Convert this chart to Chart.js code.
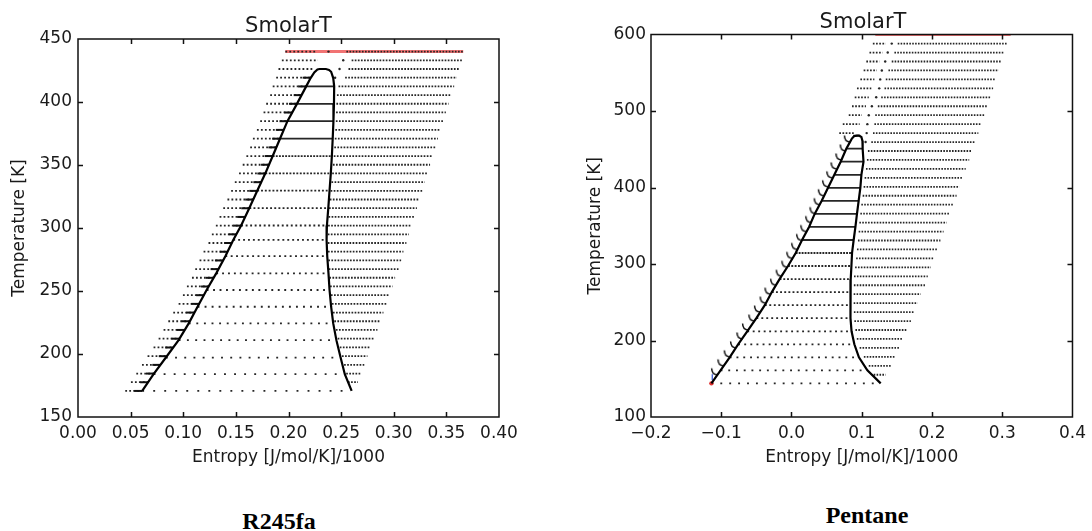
<!DOCTYPE html>
<html>
<head>
<meta charset="utf-8">
<script src="https://cdn.jsdelivr.net/npm/chart.js@4.4.1/dist/chart.umd.min.js"></script>
<style>
  body { margin: 0; background: #fff; width: 1092px; height: 531px; position: relative; overflow: hidden; }
  .box { position: absolute; top: 0; }
  #boxA { left: 0; }
  #boxB { left: 560px; }
  .cap { position: absolute; font-family: "Liberation Serif", serif; font-weight: bold; font-size: 24px;
         color: #000; transform: translate(-50%, -50%); white-space: nowrap; }
  .ttl { position: absolute; font-family: "DejaVu Sans", sans-serif; font-size: 21px; color: #1a1a1a;
         transform: translate(-50%, -50%); white-space: nowrap; }
</style>
</head>
<body>
<div class="box" id="boxA"><canvas id="chartA" width="540" height="470"></canvas></div>
<div class="box" id="boxB"><canvas id="chartB" width="532" height="470"></canvas></div>
<div class="ttl" style="left:288.5px; top:25px">SmolarT</div>
<div class="ttl" style="left:863px; top:20.5px">SmolarT</div>
<div class="cap" style="left:279px; top:521px">R245fa</div>
<div class="cap" style="left:867px; top:515px">Pentane</div>
<script>
// ---------- R245fa ----------
// grid rows (top to bottom), entropy bounds of each dotted row
const rGridT = [440.0, 433.1, 426.2, 419.3, 412.4, 405.5, 398.6, 391.7, 384.8, 377.9, 370.9, 364.0, 357.1, 350.2,
  343.3, 336.4, 329.5, 322.6, 315.7, 308.8, 301.9, 295.0, 288.1, 281.2, 274.3, 267.4, 260.5, 253.6, 246.7, 239.8,
  232.9, 226.0, 219.1, 212.2, 205.2, 198.3, 191.4, 184.5, 177.6, 170.7];
const rLeft = [0.197, 0.1937, 0.1905, 0.1883, 0.185, 0.1826, 0.1788, 0.1763, 0.1731, 0.170, 0.1662, 0.1636, 0.160,
  0.1565, 0.153, 0.149, 0.1455, 0.142, 0.138, 0.1345, 0.131, 0.1272, 0.124, 0.1193, 0.1155, 0.1114, 0.1083, 0.1035,
  0.0997, 0.0956, 0.0905, 0.0858, 0.0813, 0.0766, 0.0718, 0.0661, 0.0608, 0.0554, 0.0503, 0.0449];
const rLiq = [0.227, 0.228, 0.2238, 0.221, 0.2168, 0.2125, 0.208, 0.2035, 0.199, 0.1955, 0.192, 0.1885, 0.185, 0.1815,
  0.178, 0.1742, 0.1703, 0.1665, 0.1627, 0.1588, 0.155, 0.1506, 0.1464, 0.1422, 0.1377, 0.1335, 0.129, 0.1245, 0.1198,
  0.1152, 0.1105, 0.106, 0.1012, 0.0962, 0.0904, 0.0843, 0.0782, 0.0722, 0.0666, 0.061];
const rVap = [0.255, 0.260, 0.257, 0.2538, 0.2475, 0.246, 0.2455, 0.2452, 0.245, 0.2445, 0.244, 0.2435, 0.243, 0.2422,
  0.2415, 0.2408, 0.24, 0.2392, 0.2385, 0.238, 0.2376, 0.2373, 0.2373, 0.2375, 0.2378, 0.2382, 0.2388, 0.2395, 0.2403,
  0.2412, 0.2422, 0.2435, 0.245, 0.2467, 0.2487, 0.2508, 0.2528, 0.2548, 0.2565, null];
const rRight = [0.366, 0.3647, 0.3625, 0.360, 0.3574, 0.355, 0.352, 0.3495, 0.347, 0.3445, 0.342, 0.3395, 0.337, 0.3345,
  0.332, 0.3295, 0.327, 0.3245, 0.322, 0.3195, 0.317, 0.3145, 0.312, 0.3092, 0.307, 0.3045, 0.3013, 0.2988, 0.2959,
  0.2934, 0.2902, 0.2874, 0.2845, 0.2813, 0.278, 0.275, 0.272, 0.269, 0.266, null];
const rMid = [0.238, 0.252, 0.2485, 0.2443, null, null, null, null, null, null, null, null, null, null, null, null, null,
  null, null, null, null, null, null, null, null, null, null, null, null, null, null, null, null, null, null, null, null,
  null, null, null];
const rCritT = 426;
// two-phase rows
const rTieT = [170.7, 184.0, 197.2, 211.0, 224.3, 237.5, 250.8, 264.0, 277.6, 290.5, 302.0, 315.8, 329.6, 343.4, 357.1,
  371.0, 384.8, 398.5, 412.4, 426.1];
const rTieLiq = [0.061, 0.0718, 0.0835, 0.0956, 0.1052, 0.1136, 0.1222, 0.1313, 0.140, 0.1475, 0.155, 0.1628, 0.1703,
  0.178, 0.185, 0.192, 0.199, 0.208, 0.2168, 0.2295];
const rTieVap = [0.260, 0.2535, 0.2495, 0.2455, 0.2425, 0.2405, 0.239, 0.238, 0.2368, 0.2362, 0.2365, 0.2378, 0.239,
  0.2402, 0.2412, 0.242, 0.2427, 0.2432, 0.2434, 0.2355];
// saturation dome
const rDomeS = [0.061, 0.0718, 0.0835, 0.0956, 0.1052, 0.1136, 0.1222, 0.1313, 0.140, 0.1475, 0.155, 0.1628, 0.1703,
  0.178, 0.185, 0.192, 0.199, 0.208, 0.2168, 0.221, 0.2245, 0.2275, 0.2295, 0.2355, 0.2385, 0.2405, 0.2425, 0.2434,
  0.2432, 0.2427, 0.242, 0.2412, 0.2402, 0.239, 0.2378, 0.2365, 0.2362, 0.2368, 0.238, 0.239, 0.2405, 0.2425, 0.2455,
  0.2495, 0.2535, 0.260];
const rDomeT = [170.7, 184.0, 197.2, 211.0, 224.3, 237.5, 250.8, 264.0, 277.6, 290.5, 302.0, 315.8, 329.6, 343.4, 357.1,
  371.0, 384.8, 398.5, 412.4, 419.0, 423.5, 425.8, 426.2, 426.2, 425.5, 424.0, 419.0, 412.4, 398.5, 384.8, 371.0, 357.1,
  343.4, 329.6, 315.8, 302.0, 290.5, 277.6, 264.0, 250.8, 237.5, 224.3, 211.0, 197.2, 184.0, 170.7];
const rRedT = 440;
const rRedS = [0.197, 0.366];
const rXTicks = [0, 0.4, 0.05];
const rYTicks = [150, 450, 50];

// ---------- Pentane ----------
const pGridT = [155.2, 166.9, 178.6, 190.3, 202.0, 213.7, 225.4, 237.1, 248.8, 260.5, 272.2, 283.9, 295.6, 307.3, 319.0,
  330.7, 342.4, 354.1, 365.8, 377.5, 389.2, 400.9, 412.6, 424.3, 436.0, 447.7, 459.4, 471.1, 482.8, 494.5, 506.2, 517.9,
  529.6, 541.3, 553.0, 564.7, 576.4, 588.1, 599.8];
const pHookS = [-0.106, -0.097, -0.088, -0.079, -0.070, -0.062, -0.053, -0.045, -0.037, -0.030, -0.022, -0.014, -0.006,
  0.001, 0.008, 0.015, 0.021, 0.028, 0.034, 0.040, 0.046, 0.052, 0.058, 0.064, 0.071, 0.077, 0.083, null, null, null,
  null, null, null, null, null, null, null, null, null];
const pGroupL = [null, null, null, null, null, null, null, null, null, null, null, null, null, null, null, null, null,
  null, null, null, null, null, null, null, null, null, null, 0.068, 0.073, 0.0815, 0.0861, 0.090, 0.0932, 0.098,
  0.1027, 0.1065, 0.111, 0.1158, null];
const pGroupR = [null, null, null, null, null, null, null, null, null, null, null, null, null, null, null, null, null,
  null, null, null, null, null, null, null, null, null, null, 0.090, 0.097, 0.1003, 0.106, 0.110, 0.1136, 0.118, 0.1215,
  0.125, 0.1296, 0.1342, null];
const pMid = [null, null, null, null, null, null, null, null, null, null, null, null, null, null, null, null, null, null,
  null, null, null, null, null, null, null, null, 0.1055, 0.107, 0.108, 0.110, 0.1144, 0.1206, 0.1249, 0.1263, 0.1286,
  0.1334, 0.137, 0.1427, null];
const pVap = [0.117, 0.110, 0.103, 0.097, 0.093, 0.091, 0.0895, 0.0888, 0.0885, 0.0885, 0.0888, 0.089, 0.0905, 0.092,
  0.0932, 0.0946, 0.0956, 0.0966, 0.098, 0.0994, 0.1013, 0.1027, 0.1041, 0.106, 0.1074, 0.1088, 0.1136, 0.116, 0.118,
  0.1192, 0.1229, 0.1277, 0.1324, 0.1342, 0.138, 0.1427, 0.1465, 0.1512, null];
const pRight = [0.134, 0.142, 0.1475, 0.153, 0.159, 0.1645, 0.170, 0.175, 0.1795, 0.184, 0.190, 0.194, 0.1985, 0.203,
  0.2075, 0.212, 0.2165, 0.221, 0.226, 0.2305, 0.235, 0.239, 0.2435, 0.248, 0.253, 0.2565, 0.2615, 0.266, 0.270, 0.2745,
  0.279, 0.283, 0.287, 0.291, 0.295, 0.299, 0.303, 0.307, null];
const pTieT = [144.0, 161.0, 178.0, 195.0, 212.0, 229.2, 246.2, 263.3, 280.3, 297.4, 314.4, 331.4, 348.5, 365.5, 382.6,
  399.6, 416.6, 433.7, 450.7, 467.8];
const pTieLiq = [-0.114, -0.101, -0.088, -0.076, -0.063, -0.050, -0.038, -0.028, -0.017, -0.005, 0.006, 0.015, 0.025,
  0.033, 0.043, 0.052, 0.061, 0.070, 0.078, 0.088];
const pTieVap = [0.127, 0.108, 0.096, 0.0895, 0.0855, 0.084, 0.0839, 0.084, 0.0843, 0.0853, 0.0862, 0.0885, 0.091,
  0.0932, 0.0956, 0.098, 0.0995, 0.1025, 0.1013, 0.098];
const pDomeS = [-0.114, -0.101, -0.088, -0.076, -0.063, -0.050, -0.038, -0.028, -0.017, -0.005, 0.006, 0.015, 0.025,
  0.033, 0.043, 0.052, 0.061, 0.070, 0.078, 0.083, 0.086, 0.089, 0.093, 0.096, 0.0995, 0.101, 0.1013, 0.1025, 0.0995,
  0.098, 0.0956, 0.0932, 0.091, 0.0885, 0.0862, 0.0853, 0.0843, 0.084, 0.0839, 0.084, 0.0855, 0.0895, 0.096, 0.108,
  0.127];
const pDomeT = [144.0, 161.0, 178.0, 195.0, 212.0, 229.2, 246.2, 263.3, 280.3, 297.4, 314.4, 331.4, 348.5, 365.5, 382.6,
  399.6, 416.6, 433.7, 450.7, 459, 464, 467, 467.8, 467.8, 466, 461, 450.7, 433.7, 416.6, 399.6, 382.6, 365.5, 348.5,
  331.4, 314.4, 297.4, 280.3, 263.3, 246.2, 229.2, 212.0, 195.0, 178.0, 161.0, 144.0];
const pRedT = 599.2;
const pRedS = [0.1193, 0.312];
const pStart = [-0.114, 144.0];
const pStartBlue = [-0.1128, 151.8];
const pXTicks = [-0.2, 0.4, 0.1];
const pYTicks = [100, 600, 100];

const tieDots = 20;
const dotColor = '#262626';
const redColor = 'rgba(238, 90, 90, 0.85)';
Chart.defaults.font.family = 'DejaVu Sans';

function seg(a, b, t, dash, extra) {
  return Object.assign({
    type: 'line',
    data: [{ x: a, y: t }, { x: b, y: t }],
    borderColor: dotColor,
    borderWidth: 1.8,
    borderDash: dash,
    pointRadius: 0
  }, extra || {});
}

// dash that puts n dots evenly between a and b
function spread(a, b, n) {
  return ctx => {
    const x = ctx.chart.scales.x;
    const p = Math.abs(x.getPixelForValue(b) - x.getPixelForValue(a)) / (n - 1);
    return p < 2.8 ? [] : [1.9, p - 1.9];
  };
}

function barImg() {
  const c = document.createElement('canvas');
  c.width = 18; c.height = 4;
  const g = c.getContext('2d');
  g.fillStyle = '#111';
  g.fillRect(1, 1, 8, 2);
  return c;
}

function hookImg() {
  const c = document.createElement('canvas');
  c.width = 16; c.height = 16;
  const g = c.getContext('2d');
  g.strokeStyle = '#111';
  g.lineWidth = 1.5;
  g.beginPath();
  g.moveTo(2.6, 1.5);
  g.quadraticCurveTo(2.8, 7.6, 8, 8);
  g.stroke();
  return c;
}

function pts(xs, ys) {
  return xs.map((s, i) => ({ x: s, y: ys[i] }));
}

const frame = {
  id: 'frame',
  afterDatasetsDraw(chart) {
    const { ctx, chartArea: a, scales: { x, y } } = chart;
    ctx.save();
    ctx.strokeStyle = '#111';
    ctx.lineWidth = 1.5;
    ctx.beginPath();
    x.ticks.forEach(t => {
      if (t.value <= x.min || t.value >= x.max) return;
      const px = Math.round(x.getPixelForValue(t.value)) + 0.5;
      ctx.moveTo(px, a.bottom); ctx.lineTo(px, a.bottom - 5);
      ctx.moveTo(px, a.top); ctx.lineTo(px, a.top + 5);
    });
    y.ticks.forEach(t => {
      if (t.value <= y.min || t.value >= y.max) return;
      const py = Math.round(y.getPixelForValue(t.value)) + 0.5;
      ctx.moveTo(a.left, py); ctx.lineTo(a.left + 5, py);
      ctx.moveTo(a.right, py); ctx.lineTo(a.right - 5, py);
    });
    ctx.stroke();
    ctx.strokeRect(a.left, a.top, a.right - a.left, a.bottom - a.top);
    ctx.restore();
  }
};

function makeOptions(xr, yr, xFmt, yWidth, rightPad, topPad, yTitlePad, labelPad) {
  const tickFont = { family: 'DejaVu Sans', size: 17 };
  return {
    responsive: false,
    animation: false,
    events: [],
    layout: { padding: { left: 0, right: rightPad, top: topPad, bottom: 0 } },
    plugins: {
      legend: { display: false },
      tooltip: { enabled: false },
      title: { display: false }
    },
    scales: {
      x: {
        type: 'linear', min: xr[0], max: xr[1],
        grid: { display: false, drawTicks: false }, border: { display: false },
        ticks: { stepSize: xr[2], padding: 6, color: '#1a1a1a', font: tickFont, maxRotation: 0, autoSkip: false,
                 callback: xFmt },
        title: { display: true, text: 'Entropy [J/mol/K]/1000', color: '#1a1a1a', font: tickFont,
                 padding: { top: 0, bottom: 2 } },
        afterFit: s => { s.height = 53; }
      },
      y: {
        type: 'linear', min: yr[0], max: yr[1],
        grid: { display: false, drawTicks: false }, border: { display: false },
        ticks: { stepSize: yr[2], padding: labelPad, color: '#1a1a1a', font: tickFont, autoSkip: false },
        title: { display: true, text: 'Temperature [K]', color: '#1a1a1a', font: tickFont,
                 padding: { top: yTitlePad, bottom: 0 } },
        afterFit: s => { s.width = yWidth; }
      }
    }
  };
}

// ---- R245fa datasets ----
const rSets = [];
rSets.push({ type: 'line', data: pts(rDomeS, rDomeT), borderColor: '#000', borderWidth: 2.2, pointRadius: 0 });
const rTicks = [], rMids = [];
rGridT.forEach((t, i) => {
  if (rMid[i] !== null) rMids.push({ x: rMid[i], y: t });
  if (t < rCritT) rTicks.push({ x: rLiq[i], y: t });
});
rSets.push({ type: 'scatter', data: rTicks, pointStyle: barImg(), pointRadius: 4 });
rSets.push({ type: 'scatter', data: rMids, pointRadius: 1.2, pointBackgroundColor: dotColor, pointBorderWidth: 0 });
rTieT.forEach((t, i) => rSets.push(seg(rTieLiq[i], rTieVap[i], t, spread(rTieLiq[i], rTieVap[i], tieDots))));
rGridT.forEach((t, i) => {
  rSets.push(seg(rLeft[i], rLiq[i], t, [1.8, 2.2]));
  if (rVap[i] !== null) rSets.push(seg(rVap[i], rRight[i], t, [1.7, 1.4]));
});
rSets.push(seg(rRedS[0], rRedS[1], rRedT, [], { borderColor: redColor, borderWidth: 3 }));

new Chart(document.getElementById('chartA'), {
  type: 'line',
  data: { datasets: rSets },
  options: makeOptions(rXTicks, rYTicks, v => v.toFixed(2), 78, 41, 39, 9.5, 6),
  plugins: [frame]
});

// ---- Pentane datasets ----
const pSets = [];
pSets.push({ type: 'line', data: pts(pDomeS, pDomeT), borderColor: '#000', borderWidth: 2.2, pointRadius: 0 });
pSets.push({ type: 'scatter', data: [{ x: pStart[0], y: pStart[1] }], pointRadius: 2.2,
             pointBackgroundColor: '#e03030', pointBorderWidth: 0 });
pSets.push({ type: 'scatter', data: [{ x: pStartBlue[0], y: pStartBlue[1] }], pointStyle: 'line', rotation: 90,
             pointRadius: 3, pointBorderColor: '#3050d0', pointBorderWidth: 1.2 });
const pHooks = [], pMids = [];
pGridT.forEach((t, i) => {
  if (pHookS[i] !== null) pHooks.push({ x: pHookS[i], y: t });
  if (pMid[i] !== null) pMids.push({ x: pMid[i], y: t });
});
pSets.push({ type: 'scatter', data: pHooks, pointStyle: hookImg(), pointRadius: 5 });
pSets.push({ type: 'scatter', data: pMids, pointRadius: 1.2, pointBackgroundColor: dotColor, pointBorderWidth: 0 });
pTieT.forEach((t, i) => pSets.push(seg(pTieLiq[i], pTieVap[i], t, spread(pTieLiq[i], pTieVap[i], tieDots))));
pGridT.forEach((t, i) => {
  if (pGroupL[i] !== null) pSets.push(seg(pGroupL[i], pGroupR[i], t, [1.7, 1.5]));
  if (pVap[i] !== null) pSets.push(seg(pVap[i], pRight[i], t, [1.6, 1.3]));
});
pSets.push(seg(pRedS[0], pRedS[1], pRedT, [], { borderColor: redColor, borderWidth: 2 }));

new Chart(document.getElementById('chartB'), {
  type: 'line',
  data: { datasets: pSets },
  options: makeOptions(pXTicks, pYTicks, v => (v < 0 ? '\u2212' : '') + Math.abs(v).toFixed(1), 91, 17, 34.5, 25.5, 5),
  plugins: [frame]
});
</script>
</body>
</html>
